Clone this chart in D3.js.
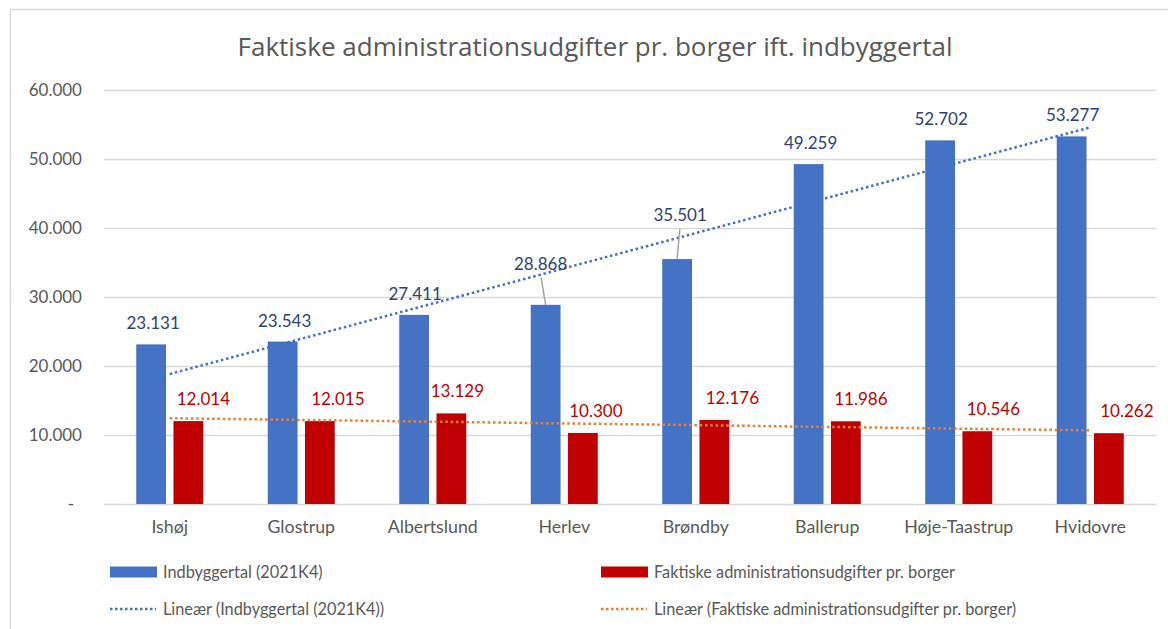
<!DOCTYPE html>
<html>
<head>
<meta charset="utf-8">
<script src="https://cdn.jsdelivr.net/npm/d3@7"></script>
<style>
  html, body { margin: 0; padding: 0; background: #fff; }
  svg { display: block; font-family: Lato, "Open Sans", sans-serif; }
</style>
</head>
<body>
<svg id="chart" width="1168" height="629"></svg>
<script>
// ---- data ----
const categories = ["Ishøj", "Glostrup", "Albertslund", "Herlev", "Brøndby", "Ballerup", "Høje-Taastrup", "Hvidovre"];
const population = [23131, 23543, 27411, 28868, 35501, 49259, 52702, 53277];
const adminCost = [12014, 12015, 13129, 10300, 12176, 11986, 10546, 10262];
const seriesNames = ["Indbyggertal (2021K4)", "Faktiske administrationsudgifter pr. borger"];
const trendNames = ["Lineær (Indbyggertal (2021K4))", "Lineær (Faktiske administrationsudgifter pr. borger)"];
const yTicks = [0, 10000, 20000, 30000, 40000, 50000, 60000];
const titleText = "Faktiske administrationsudgifter pr. borger ift. indbyggertal";

// label nudges (styling): [dx, dy]
const popLabelNudge = [[2,0],[2,0],[1,0],[-5,-20],[3,-23],[2,0],[1,0],[1,0]];
const costLabelNudge = [[15,0],[18,0],[6,0],[13,0],[18,0],[15,0],[16,0],[18,0]];

const colors = { pop: "#4472C4", cost: "#C00000", popTrend: "#4472C4", costTrend: "#ED7D31",
                 popLabel: "#2E4372", costLabel: "#C00000", text: "#595959", grid: "#D9D9D9" };

const loc = d3.formatLocale({ decimal: ",", thousands: ".", grouping: [3], currency: ["", ""] });
const fmt = loc.format(",d");

const svg = d3.select("#chart");
svg.append("rect").attr("x", 0).attr("y", 0).attr("width", 1168).attr("height", 629).attr("fill", "#fff");
// chart border (cropped on right/bottom)
svg.append("rect").attr("x", 10.5).attr("y", 9.5).attr("width", 1200).attr("height", 700)
  .attr("fill", "none").attr("stroke", colors.grid).attr("stroke-width", 1.5);

const pLeft = 104, pRight = 1156, pTop = 90, pBottom = 504;
const x0 = d3.scaleBand().domain(categories).range([pLeft, pRight]).padding(0);
const x1 = d3.scaleBand().domain(["pop", "cost"])
  .range([x0.bandwidth() / 2 - 33.5, x0.bandwidth() / 2 + 33.5]).paddingInner(0.2).paddingOuter(0);
const y = d3.scaleLinear().domain([0, 60000]).range([pBottom, pTop]);

// title
svg.append("text").attr("x", 595).attr("y", 56).attr("text-anchor", "middle")
  .attr("font-family", "'Open Sans', sans-serif")
  .attr("font-size", 26).attr("fill", colors.text).text(titleText);

// grid + y axis
const yAxis = d3.axisLeft(y).tickValues(yTicks).tickSize(-(pRight - pLeft)).tickPadding(22)
  .tickFormat(d => d === 0 ? "-" : fmt(d));
const gy = svg.append("g").attr("transform", `translate(${pLeft},0)`).call(yAxis);
gy.select(".domain").remove();
gy.selectAll(".tick line").attr("stroke", colors.grid).attr("stroke-width", 1.5);
gy.selectAll(".tick text").attr("fill", colors.text).attr("font-size", 17).attr("font-family", "Lato, sans-serif");
gy.selectAll(".tick text").filter(d => d === 0).attr("x", -30);

// x labels
const gx = svg.append("g").attr("transform", `translate(0,${pBottom})`)
  .call(d3.axisBottom(x0).tickSize(0).tickPadding(16));
gx.select(".domain").remove();
gx.selectAll(".tick text").attr("fill", colors.text).attr("font-size", 17.8).attr("font-family", "Lato, sans-serif");

// bars
const groups = svg.append("g").selectAll("g").data(categories).join("g")
  .attr("transform", d => `translate(${x0(d)},0)`);
groups.append("rect")
  .attr("x", x1("pop")).attr("width", x1.bandwidth())
  .attr("y", (d, i) => y(population[i])).attr("height", (d, i) => y(0) - y(population[i]))
  .attr("fill", colors.pop);
groups.append("rect")
  .attr("x", x1("cost")).attr("width", x1.bandwidth())
  .attr("y", (d, i) => y(adminCost[i])).attr("height", (d, i) => y(0) - y(adminCost[i]))
  .attr("fill", colors.cost);

// linear trendlines (least squares on category index)
function linfit(vals) {
  const xs = vals.map((v, i) => i + 1);
  const mx = d3.mean(xs), my = d3.mean(vals);
  const sxy = d3.sum(xs, (xv, i) => (xv - mx) * (vals[i] - my));
  const sxx = d3.sum(xs, xv => (xv - mx) ** 2);
  const b = sxy / sxx, a = my - b * mx;
  return xs.map(xv => a + b * xv);
}
const cx = d => x0(d) + x0.bandwidth() / 2;
const line = d3.line().x(d => cx(d[0])).y(d => y(d[1]));
const popFit = linfit(population), costFit = linfit(adminCost);
const firstLast = arr => [[categories[0], arr[0]], [categories[categories.length - 1], arr[arr.length - 1]]];
svg.append("path").attr("d", line(firstLast(costFit))).attr("fill", "none")
  .attr("stroke", colors.costTrend).attr("stroke-width", 2.5).attr("stroke-dasharray", "2.5 2.8");
svg.append("path").attr("d", line(firstLast(popFit))).attr("fill", "none")
  .attr("stroke", colors.popTrend).attr("stroke-width", 2.5).attr("stroke-dasharray", "2.5 2.8");

// leader lines for moved labels
const popBarCx = i => x0(categories[i]) + x1("pop") + x1.bandwidth() / 2;
population.forEach((v, i) => {
  const [dx, dy] = popLabelNudge[i];
  if (dy < -5) {
    svg.append("line")
      .attr("x1", popBarCx(i) + dx * 0.9).attr("y1", y(v) - 15 + dy + 8)
      .attr("x2", popBarCx(i)).attr("y2", y(v))
      .attr("stroke", "#A6A6A6").attr("stroke-width", 1.5);
  }
});

// data labels
svg.append("g").selectAll("text").data(population).join("text")
  .attr("x", (v, i) => popBarCx(i) + popLabelNudge[i][0])
  .attr("y", (v, i) => y(v) - 15 + popLabelNudge[i][1])
  .attr("text-anchor", "middle").attr("font-size", 17).attr("fill", colors.popLabel)
  .text(v => fmt(v));
const costBarCx = i => x0(categories[i]) + x1("cost") + x1.bandwidth() / 2;
svg.append("g").selectAll("text").data(adminCost).join("text")
  .attr("x", (v, i) => costBarCx(i) + costLabelNudge[i][0])
  .attr("y", (v, i) => y(v) - 16 + costLabelNudge[i][1])
  .attr("text-anchor", "middle").attr("font-size", 17).attr("fill", colors.costLabel)
  .text(v => fmt(v));

// legend
const legend = svg.append("g");
const legItems = [
  { type: "rect", color: colors.pop, label: seriesNames[0], x: 110, y: 572 },
  { type: "rect", color: colors.cost, label: seriesNames[1], x: 601, y: 572 },
  { type: "line", color: colors.popTrend, label: trendNames[0], x: 110, y: 609 },
  { type: "line", color: colors.costTrend, label: trendNames[1], x: 601, y: 609 }
];
legItems.forEach(it => {
  if (it.type === "rect") {
    legend.append("rect").attr("x", it.x).attr("y", it.y - 5.5).attr("width", 47).attr("height", 11).attr("fill", it.color);
  } else {
    legend.append("line").attr("x1", it.x).attr("x2", it.x + 46).attr("y1", it.y).attr("y2", it.y)
      .attr("stroke", it.color).attr("stroke-width", 2.5).attr("stroke-dasharray", "2.5 2.5");
  }
  legend.append("text").attr("x", it.x + 53).attr("y", it.y + 6).attr("font-size", 16.3)
    .attr("fill", colors.text).text(it.label);
});
</script>
</body>
</html>
